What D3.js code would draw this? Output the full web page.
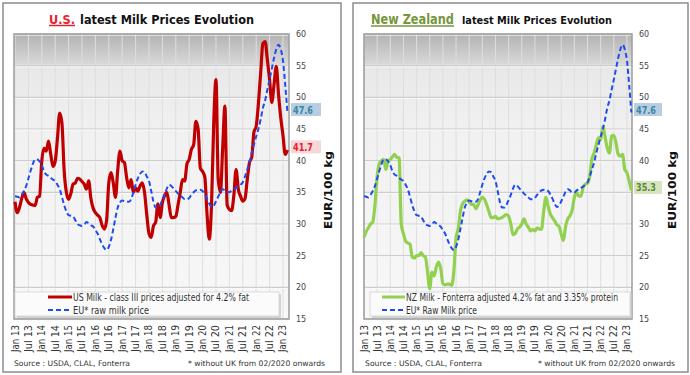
<!DOCTYPE html>
<html><head><meta charset="utf-8">
<script src="https://cdn.jsdelivr.net/npm/d3@7"></script>
<style>html,body{margin:0;padding:0;background:#fff;}svg{display:block;}</style>
</head><body>
<script>
// ---------- DATA ----------
const tickLabels = ["Jan 13","Jul 13","Jan 14","Jul 14","Jan 15","Jul 15","Jan 16","Jul 16","Jan 17","Jul 17","Jan 18","Jul 18","Jan 19","Jul 19","Jan 20","Jul 20","Jan 21","Jul 21","Jan 22","Jul 22","Jan 23"];
const yTicks = [15,20,25,30,35,40,45,50,55,60];

// monthly values Jan 2013 .. Mar 2023 (EUR/100 kg)
const usMilk = [33.5,31.8,32.6,34.0,35.0,34.0,33.4,33.1,33.0,32.9,34.2,34.4,
  40.0,42.0,41.5,43.1,41.0,39.1,39.9,43.5,47.5,46.0,38.5,35.0,
  33.9,34.8,36.3,36.5,37.2,37.1,36.7,36.3,35.5,36.8,34.0,32.5,
  31.8,31.4,31.0,29.8,29.2,30.5,36.5,38.1,36.5,34.2,38.5,41.5,
  40.0,39.7,37.3,35.7,37.0,35.0,35.7,35.2,36.0,36.5,35.0,31.5,
  28.5,27.9,29.7,30.3,33.2,31.0,33.4,34.5,35.0,33.0,31.0,31.0,
  31.2,33.0,35.0,37.0,36.8,39.5,40.2,41.8,42.5,46.2,45.0,38.8,
  38.3,37.4,31.5,27.6,33.0,46.0,52.8,37.0,35.0,42.0,48.6,33.0,
  32.3,32.1,34.5,38.6,35.5,34.4,33.6,34.0,37.0,39.7,40.5,44.5,
  45.4,49.0,53.8,58.5,58.8,56.0,52.8,49.2,52.0,54.9,50.5,46.8,
  44.0,41.0,41.7];

const euMilk = [34.4,34.3,34.2,34.6,35.2,36.0,37.2,38.4,39.5,40.2,40.2,39.9,
  39.3,38.3,37.8,37.6,37.3,37.0,36.8,36.2,35.5,34.3,33.0,32.0,
  31.4,31.3,31.2,30.6,30.0,29.8,29.7,29.9,30.3,30.1,29.8,29.6,
  29.0,28.5,27.6,26.8,26.2,25.9,26.4,27.5,29.2,31.0,32.6,33.4,
  33.7,33.6,33.5,33.5,33.9,35.0,36.2,37.2,37.9,38.3,38.2,37.5,
  36.8,35.2,33.5,32.6,32.6,33.0,33.8,34.6,35.6,36.2,36.0,35.6,
  35.2,34.8,34.5,34.2,33.9,33.9,34.1,34.6,35.0,35.3,35.4,35.4,
  35.2,34.7,34.0,33.2,32.7,32.9,33.6,34.3,35.1,35.5,35.3,35.0,
  35.0,35.3,35.5,35.7,35.9,36.2,36.6,37.5,38.6,39.7,41.2,42.5,
  43.8,45.0,46.5,48.3,49.5,51.2,52.8,54.5,56.2,57.6,58.3,57.6,
  55.8,52.0,47.6];

const nzMilk = [27.9,28.8,29.4,30.0,30.3,33.0,37.5,39.5,40.0,40.2,38.6,39.9,
  40.2,40.6,41.0,40.5,40.5,30.0,28.5,27.3,27.0,26.8,24.8,24.6,
  25.0,25.0,25.5,25.0,24.8,22.4,19.8,22.4,21.8,23.2,24.0,23.0,
  20.6,20.4,20.5,20.5,20.3,22.5,27.8,29.2,32.0,33.2,33.6,33.8,
  33.5,33.1,33.1,32.4,33.0,33.8,34.2,33.9,33.0,32.0,31.0,31.0,
  31.2,30.8,30.9,31.0,31.3,31.5,31.2,30.0,28.3,28.5,29.2,29.5,
  30.0,30.8,30.0,29.5,28.9,29.1,28.9,29.4,29.2,29.2,32.0,34.2,
  32.8,31.6,31.0,30.5,29.9,29.6,28.4,27.4,29.6,30.8,31.3,32.2,
  34.2,35.0,34.4,34.4,35.8,36.3,36.4,37.5,40.3,41.2,42.5,43.6,
  43.3,45.4,43.8,42.0,41.2,43.9,44.0,42.8,41.0,40.7,41.0,38.6,
  38.1,36.8,35.3];

const usLegend = ["US Milk - class III prices adjusted for 4.2% fat","EU* raw milk price"];
const nzLegend = ["NZ Milk - Fonterra adjusted 4.2% fat and 3.35% protein","EU* Raw Milk price"];

// ---------- DRAW ----------
const svg = d3.select("body").append("svg").attr("width",690).attr("height",375);
const defs = svg.append("defs");
const grad = defs.append("linearGradient").attr("id","bg").attr("x1",0).attr("y1",0).attr("x2",0).attr("y2",1);
[[0,"#b3b3b3"],[0.105,"#d8d8d8"],[0.11,"#e8e8e8"],[0.35,"#f1f1f1"],[1,"#f8f8f8"]]
  .forEach(([o,c])=>grad.append("stop").attr("offset",o).attr("stop-color",c));

const FONT = "'DejaVu Sans', Verdana, sans-serif";

function txt(g,x,y,s,o={}){
  const t = g.append("text").attr("x",x).attr("y",y).text(s)
    .attr("font-family",FONT).attr("font-size",o.size||9)
    .attr("fill",o.fill||"#333");
  if(o.bold) t.attr("font-weight","bold");
  if(o.anchor) t.attr("text-anchor",o.anchor);
  if(o.len) t.attr("textLength",o.len).attr("lengthAdjust","spacingAndGlyphs");
  if(o.rot!==undefined) t.attr("transform",`rotate(${o.rot},${x},${y})`);
  return t;
}

function panel(cfg){
  const g = svg.append("g");
  g.append("rect").attr("x",cfg.px).attr("y",3).attr("width",cfg.pw).attr("height",369)
    .attr("fill","#fff").attr("stroke","#8c8c8c").attr("stroke-width",1.5);

  const x = d3.scaleLinear().domain(cfg.xdom).range([cfg.x0,cfg.x1]);
  const y = d3.scaleLinear().domain([15,60]).range([319,34]);

  g.append("rect").attr("x",cfg.x0).attr("y",34).attr("width",cfg.x1-cfg.x0).attr("height",285)
    .attr("fill","url(#bg)");
  // grid
  g.selectAll(null).data(tickLabels).enter().append("line")
    .attr("x1",(d,i)=>x(i*6)).attr("x2",(d,i)=>x(i*6)).attr("y1",34).attr("y2",319)
    .attr("stroke","#dedede").attr("stroke-width",1);
  g.selectAll(null).data(yTicks).enter().append("line")
    .attr("x1",cfg.x0).attr("x2",cfg.x1).attr("y1",d=>y(d)).attr("y2",d=>y(d))
    .attr("stroke","#cdcdcd").attr("stroke-width",1.2);
  g.selectAll(null).data(yTicks).enter().append("line")
    .attr("x1",cfg.x0).attr("x2",cfg.x1).attr("y1",d=>y(d)+1.2).attr("y2",d=>y(d)+1.2)
    .attr("stroke","#fbfbfb").attr("stroke-width",0.8);
  g.append("rect").attr("x",cfg.x0).attr("y",34).attr("width",cfg.x1-cfg.x0).attr("height",285)
    .attr("fill","none").attr("stroke","#9d9d9d").attr("stroke-width",1.5);

  // y axis labels (right); labels hidden under a value tag are not drawn
  const visible = yTicks.filter(v => !cfg.tags.some(tg => Math.abs(y(v) - (y(tg.v)-3)) < 11));
  const ya = d3.axisRight(y).tickValues(visible).tickSize(0).tickPadding(0);
  const yg = g.append("g").attr("transform",`translate(${cfg.x1+7},0)`).call(ya);
  yg.select(".domain").remove();
  yg.selectAll("text").attr("font-family",FONT).attr("font-size",8).attr("fill","#444");

  // x axis labels
  tickLabels.forEach((s,i)=>{
    txt(g,x(i*6)+3.5,325,s,{size:10,anchor:"end",rot:-90,len:27,fill:"#333"});
  });

  // lines
  const line = d3.line().x((d,i)=>x(i)).y(d=>y(d)).curve(d3.curveMonotoneX);
  g.append("path").datum(cfg.main).attr("d",line).attr("fill","none")
    .attr("stroke",cfg.mainColor).attr("stroke-width",3.2).attr("stroke-linejoin","round");
  g.append("path").datum(euMilk).attr("d",line).attr("fill","none")
    .attr("stroke","#1f4cf0").attr("stroke-width",2).attr("stroke-dasharray","5,3");

  // legend
  const lx0 = cfg.legX0, lx1 = cfg.legX1;
  g.append("rect").attr("x",lx0+2).attr("y",294).attr("width",lx1-lx0).attr("height",24)
    .attr("fill","#c8c8c8").attr("opacity",0.8);
  g.append("rect").attr("x",lx0).attr("y",292).attr("width",lx1-lx0).attr("height",24)
    .attr("fill","#fbfbfb").attr("stroke","#d5d5d5").attr("stroke-width",0.8);
  g.append("line").attr("x1",cfg.legLine[0]).attr("x2",cfg.legLine[1]).attr("y1",297).attr("y2",297)
    .attr("stroke",cfg.mainColor).attr("stroke-width",3);
  g.append("line").attr("x1",cfg.legLine[0]).attr("x2",cfg.legLine[1]).attr("y1",310).attr("y2",310)
    .attr("stroke","#1f4cf0").attr("stroke-width",2).attr("stroke-dasharray","5,3");
  txt(g,cfg.legLine[1]+1,300.5,cfg.legend[0],{size:10,len:cfg.legLen[0]});
  txt(g,cfg.legLine[1]+1,313.5,cfg.legend[1],{size:10,len:cfg.legLen[1]});

  // last-value labels
  cfg.tags.forEach(tg=>{
    const cy = y(tg.v)-3;
    g.append("rect").attr("x",cfg.x1+2).attr("y",cy-6.5).attr("width",tg.w).attr("height",13).attr("fill",tg.bg);
    txt(g,cfg.x1+4,cy+4,tg.v.toFixed(1),{size:10,bold:true,fill:tg.fg,len:20});
  });

  // axis title
  txt(g,cfg.axX,190,"EUR/100 kg",{size:10,bold:true,fill:"#111",anchor:"middle",rot:-90,len:78});

  // source
  txt(g,cfg.src[0],365.5,"Source : USDA, CLAL, Fonterra",{size:7.6,len:cfg.src[1]});
  txt(g,cfg.note[0],365.5,"* without UK from 02/2020 onwards",{size:7.6,len:cfg.note[1]});

  return {g,x,y};
}

const us = panel({px:3,pw:338,x0:14,x1:289,xdom:[-0.45,122.7],main:usMilk,mainColor:"#c00000",
  legX0:15,legX1:279,legLine:[48,72],legend:usLegend,legLen:[176,76],
  tags:[{v:47.6,bg:"#b8cee0",fg:"#3a86a6",w:30},{v:41.7,bg:"#f6d8d8",fg:"#e8202a",w:30}],
  axX:332,src:[14,116],note:[188,137]});
const nz = panel({px:353,pw:335,x0:364,x1:632,xdom:[0,122.3],main:nzMilk,mainColor:"#92d050",
  legX0:370,legX1:630,legLine:[382,405],legend:nzLegend,legLen:[212,71],
  tags:[{v:47.6,bg:"#b8cee0",fg:"#3a86a6",w:28},{v:35.3,bg:"#d6e4c0",fg:"#5b8c34",w:28}],
  axX:676,src:[365,117],note:[538,137]});

// titles
txt(us.g,49,23.5,"U.S.",{size:13,bold:true,fill:"#e8202a",len:26});
us.g.append("line").attr("x1",49).attr("x2",75).attr("y1",25.5).attr("y2",25.5).attr("stroke","#e8202a").attr("stroke-width",1.5);
txt(us.g,80,23.5,"latest Milk Prices Evolution",{size:13,bold:true,fill:"#111",len:174});
txt(nz.g,371,24,"New Zealand",{size:14,bold:true,fill:"#76963e",len:83});
nz.g.append("line").attr("x1",371).attr("x2",454).attr("y1",26).attr("y2",26).attr("stroke","#76963e").attr("stroke-width",1.5);
txt(nz.g,462,24,"latest Milk Prices Evolution",{size:11,bold:true,fill:"#111",len:150});
</script>
</body></html>
